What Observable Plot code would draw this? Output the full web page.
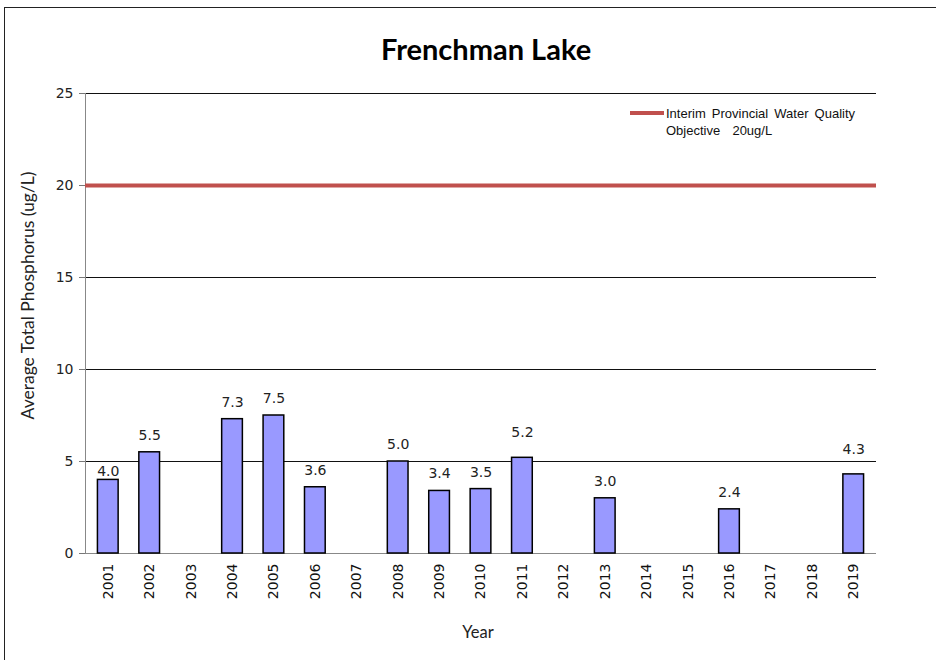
<!DOCTYPE html>
<html>
<head>
<meta charset="utf-8">
<script src="https://cdn.jsdelivr.net/npm/d3@7"></script>
<script src="https://cdn.jsdelivr.net/npm/@observablehq/plot@0.6"></script>
<style>
  html, body { margin: 0; padding: 0; background: #fff; }
  #wrap { position: relative; width: 936px; height: 660px; overflow: hidden; }
  #border { position: absolute; left: 4px; top: 7px; width: 960px; height: 700px; border: 1px solid #222; box-sizing: border-box; }
  #legend { position: absolute; left: 630px; top: 105px; font-family: "Liberation Sans", Arial, sans-serif; font-size: 13px; color: #111; line-height: 17px; }
  #legend .sw { position: absolute; left: 0; top: 6px; width: 34px; height: 4px; background: #c0504d; }
  #legend .tx { margin-left: 36px; word-spacing: 2.5px; }
  #chart { position: absolute; left: 0; top: 0; }
</style>
</head>
<body>
<div id="wrap">
  <div id="border"></div>
  <div id="chart"></div>
  <div id="legend"><div class="sw"></div><div class="tx">Interim Provincial Water Quality<br>Objective&nbsp; 20ug/L</div></div>
</div>
<script>
const yearLabels = ["2001","2002","2003","2004","2005","2006","2007","2008","2009","2010","2011","2012","2013","2014","2015","2016","2017","2018","2019"];
const sampleYears = ["2001","2002","2004","2005","2006","2008","2009","2010","2011","2013","2016","2019"];
const phosphorus = [4.0, 5.5, 7.3, 7.5, 3.6, 5.0, 3.4, 3.5, 5.2, 3.0, 2.4, 4.3];
const objective = 20;
const yTicks = [0, 5, 10, 15, 20, 25];
const gridTicks = [5, 10, 15, 25];

const data = sampleYears.map((y, i) => ({year: y, value: phosphorus[i]}));

// label nudges (style only) to mimic the original's hand-placed labels
const labelNudge = {"2001": 9, "2011": -8, "2019": -8};

const plot = Plot.plot({
  width: 936,
  height: 660,
  marginTop: 93,
  marginBottom: 107,
  marginLeft: 85,
  marginRight: 60,
  style: {background: "transparent"},
  x: {domain: yearLabels, paddingInner: 0.5, paddingOuter: 0.3, round: false, label: null},
  y: {domain: [0, 25], label: null},
  marks: [
    Plot.gridY(gridTicks, {stroke: "#111", strokeOpacity: 1, strokeWidth: 1}),
    Plot.axisY(yTicks, {tickSize: 6, tickPadding: 6, fontSize: 14, fontFamily: "DejaVu Sans", fill: "#222", stroke: "#777", label: null}),
    Plot.frame({anchor: "left", stroke: "#888"}),
    Plot.ruleY([0], {stroke: "#888", strokeWidth: 1}),
    Plot.ruleY([objective], {stroke: "#c0504d", strokeWidth: 4}),
    Plot.barY(data, {x: "year", y: "value", fill: "#9999ff", stroke: "#000", strokeWidth: 1.5}),
    Plot.text(data.filter(d => !(d.year in labelNudge)), {x: "year", y: "value", text: d => d.value.toFixed(1), dy: -17, lineAnchor: "middle", fontSize: 14, fontFamily: "DejaVu Sans", fill: "#222"}),
    ...Object.keys(labelNudge).map(k =>
      Plot.text(data.filter(d => d.year === k), {x: "year", y: "value", text: d => d.value.toFixed(1), dy: -17 + labelNudge[k], lineAnchor: "middle", fontSize: 14, fontFamily: "DejaVu Sans", fill: "#222"})
    ),
    Plot.axisX({tickRotate: -90, tickSize: 0, tickPadding: 10, fontSize: 14, fontFamily: "DejaVu Sans", fill: "#111", label: null}),
    Plot.text(["Frenchman Lake"], {frameAnchor: "top", dx: 5, dy: -43, lineAnchor: "middle", fontSize: 29, fontWeight: "bold", fontFamily: "Lato", fill: "#000"}),
    Plot.text(["Year"], {frameAnchor: "bottom", dx: -3, dy: 79, lineAnchor: "middle", fontSize: 16.5, fontFamily: "Lato", fill: "#222"}),
    Plot.text(["Average Total Phosphorus (ug/L)"], {frameAnchor: "left", dx: -57, dy: -28, rotate: -90, textAnchor: "middle", lineAnchor: "middle", fontSize: 17.5, fontFamily: "Lato", fill: "#222"})
  ]
});
document.getElementById("chart").appendChild(plot);
</script>
</body>
</html>
